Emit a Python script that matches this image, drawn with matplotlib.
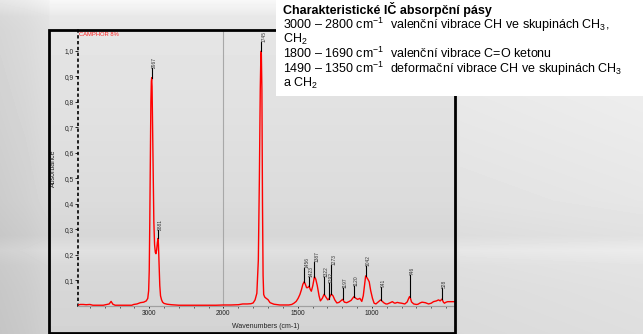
import matplotlib
matplotlib.use('Agg')
import matplotlib.pyplot as plt
import numpy as np
from matplotlib.patches import Rectangle

plt.rcParams['font.family'] = ['Liberation Sans', 'DejaVu Sans']
plt.rcParams['mathtext.fontset'] = 'custom'
plt.rcParams['mathtext.rm'] = 'Liberation Sans'
plt.rcParams['mathtext.it'] = 'Liberation Sans:italic'
plt.rcParams['mathtext.bf'] = 'Liberation Sans:bold'

# ---------------- data ----------------
wavenumbers = [3960, 3930, 3890, 3850, 3800, 3760, 3700, 3620, 3575, 3540, 3514, 3490, 3460,
               3400, 3300, 3235, 3210, 3165, 3120, 3075, 3040, 3020, 3008, 3000, 2993, 2985,
               2978, 2972, 2967, 2962, 2955, 2947, 2938, 2928, 2918, 2910, 2900, 2890, 2881,
               2876, 2868, 2858, 2848, 2835, 2820, 2800, 2760, 2700, 2600, 2500, 2400, 2300,
               2200, 2100, 2000, 1950, 1900, 1870, 1840, 1815, 1800, 1787, 1775, 1765,
               1758, 1752, 1748, 1745, 1741, 1737, 1733, 1729, 1722, 1712, 1700, 1686, 1660,
               1620, 1590, 1560, 1540, 1525, 1510, 1497, 1485, 1474, 1465, 1456, 1448, 1440,
               1432, 1423, 1415, 1408, 1398, 1387, 1378, 1368, 1356, 1347, 1334, 1322, 1310,
               1297, 1289, 1280, 1273, 1262, 1250, 1236, 1222, 1210, 1197, 1185, 1170, 1155,
               1140, 1130, 1120, 1108, 1096, 1081, 1068, 1058, 1050, 1042, 1030, 1018, 1008,
               996, 985, 973, 963, 952, 941, 930, 918, 905, 896, 880, 862, 850, 844, 829, 813,
               800, 778, 762, 752, 746, 740, 733, 718, 700, 689, 675, 662, 650, 640, 618, 600,
               585, 565, 551, 540, 528, 518, 511, 500, 489, 470, 451, 440]
absorbance = [0.004, 0.006, 0.006, 0.005, 0.006, 0.003, 0.003, 0.003, 0.006, 0.008, 0.018, 0.007, 0.003,
              0.003, 0.003, 0.003, 0.006, 0.008, 0.013, 0.015, 0.020, 0.030, 0.060, 0.140, 0.320, 0.600,
              0.800, 0.880, 0.895, 0.860, 0.700, 0.500, 0.330, 0.240, 0.210, 0.205, 0.220, 0.250, 0.265,
              0.240, 0.170, 0.080, 0.040, 0.025, 0.015, 0.010, 0.007, 0.005, 0.003, 0.003, 0.003, 0.003,
              0.003, 0.003, 0.004, 0.004, 0.005, 0.008, 0.008, 0.009, 0.012, 0.024, 0.050, 0.180,
              0.500, 0.850, 0.980, 1.000, 0.850, 0.400, 0.120, 0.045, 0.035, 0.030, 0.025, 0.013, 0.007,
              0.004, 0.004, 0.004, 0.006, 0.011, 0.018, 0.030, 0.045, 0.065, 0.085, 0.095, 0.085, 0.072,
              0.072, 0.078, 0.065, 0.058, 0.080, 0.115, 0.105, 0.080, 0.040, 0.020, 0.030, 0.046, 0.035,
              0.024, 0.028, 0.040, 0.047, 0.040, 0.024, 0.012, 0.014, 0.020, 0.026, 0.015, 0.013, 0.017,
              0.022, 0.030, 0.037, 0.030, 0.026, 0.030, 0.018, 0.040, 0.080, 0.118, 0.108, 0.095, 0.060,
              0.030, 0.011, 0.008, 0.013, 0.018, 0.024, 0.018, 0.012, 0.008, 0.008, 0.012, 0.017, 0.012,
              0.011, 0.014, 0.012, 0.011, 0.008, 0.016, 0.030, 0.037, 0.030, 0.016, 0.008, 0.006, 0.007,
              0.012, 0.015, 0.014, 0.013, 0.008, 0.011, 0.017, 0.020, 0.024, 0.020, 0.027, 0.015, 0.011,
              0.015, 0.017, 0.017, 0.017, 0.017]

peak_pos = [2967, 2881, 1745, 1456, 1423, 1387, 1322, 1289, 1273, 1197, 1120, 1042, 941, 746, 528]
peak_labels = ['2967', '2881', '1745', '1456', '1423', '1387', '1322', '1292', '1273', '1197',
               '1120', '1042', '941', '746', '528']
peak_label_base = [0.933, 0.298, 1.035, 0.150, 0.115, 0.174, 0.115, 0.089, 0.160, 0.070,
                   0.080, 0.158, 0.076, 0.120, 0.070]

yticks = [0.1, 0.2, 0.3, 0.4, 0.5, 0.6, 0.7, 0.8, 0.9, 1.0]
ytick_labels = ['0,1', '0,2', '0,3', '0,4', '0,5', '0,6', '0,7', '0,8', '0,9', '1,0']
xticks_major = [3000, 2000, 1500, 1000]
xtick_labels = ['3000', '2000', '1500', '1000']

box_title = 'Charakteristické IČ absorpční pásy'
box_lines = [r'3000 – 2800 cm$^{-1}$  valenční vibrace CH ve skupinách CH$_3$,',
             r'CH$_2$',
             r'1800 – 1690 cm$^{-1}$  valenční vibrace C=O ketonu',
             r'1490 – 1350 cm$^{-1}$  deformační vibrace CH ve skupinách CH$_3$',
             r'a CH$_2$']

# ---------------- figure ----------------
W, H = 643, 334
fig = plt.figure(figsize=(W / 100, H / 100), dpi=100)


def fx(px):
    return px / W


def fy(py):
    return 1 - py / H


# background gradient (styling only)
bg = fig.add_axes([0, 0, 1, 1])
bg.axis('off')
rows = np.interp(np.arange(H), [0, 6, 16, 30, 120, 200, 235, 250, 265, 290, 334],
                 [0.97, 0.95, 0.91, 0.90, 0.88, 0.86, 0.84, 0.88, 0.85, 0.84, 0.83])
cols = np.interp(np.arange(W), [0, 25, 48, 50, 455, 460, 643],
                 [0.93, 0.95, 0.98, 1.0, 1.0, 1.03, 1.05])
img = np.clip(np.outer(rows, cols), 0, 1)
bg.imshow(img, cmap='gray', vmin=0, vmax=1, aspect='auto', extent=[0, 1, 0, 1],
          interpolation='bilinear')

ax = fig.add_axes([fx(78), fy(306), fx(455) - fx(78), fy(30) - fy(306)])
ax.patch.set_alpha(0)


def fwd(w):
    w = np.asarray(w, float)
    return np.where(w >= 2000, w, 2 * w - 2000)


def inv(u):
    u = np.asarray(u, float)
    return np.where(u >= 2000, u, (u + 2000) / 2)


ax.set_xscale('function', functions=(fwd, inv))
ax.set_xlim(3960, 440)
ax.set_ylim(0, 1.082)

ax.axvline(2000, color='#a8a8a8', lw=0.8, zorder=1)
ax.plot(wavenumbers, absorbance, color='#ff0000', lw=1.0, zorder=3)

for w, lab, base in zip(peak_pos, peak_labels, peak_label_base):
    yv = float(np.interp(w, wavenumbers[::-1], absorbance[::-1]))
    ax.plot([w, w], [yv, base], color='black', lw=0.8, zorder=4)
    ax.text(w, base, lab, rotation=90, ha='left', va='bottom', fontsize=3.5,
            color='#333333', zorder=5, clip_on=True)

# axes styling
for s in ['top', 'right']:
    ax.spines[s].set_visible(False)
ax.spines['left'].set_linestyle((0, (1, 2.5)))
ax.spines['left'].set_linewidth(1.2)
ax.spines['bottom'].set_color('#a0a0a0')
ax.spines['bottom'].set_linewidth(0.9)

ax.set_yticks(yticks)
ax.set_yticklabels(ytick_labels)
ax.tick_params(axis='y', length=2.2, width=0.7, pad=0.8, labelsize=4.8, colors='#222222')

minor = [w for w in list(range(3800, 2000, -200)) + list(range(1900, 440, -100))
         if w not in xticks_major]
ax.set_xticks(xticks_major)
ax.set_xticklabels(xtick_labels)
ax.set_xticks(minor, minor=True)
ax.tick_params(axis='x', which='major', length=1.5, width=0.7, pad=1.5, labelsize=4.8,
               colors='#222222')
ax.tick_params(axis='x', which='minor', length=1.5, width=0.7, colors='#555555')

fig.text(fx(53), fy(168), 'Absorbance', rotation=90, ha='center', va='center',
         fontsize=5, color='#222222')
fig.text(fx(266), fy(327), 'Wavenumbers (cm-1)', ha='center', va='center',
         fontsize=5, color='#222222')
fig.text(fx(79), fy(35), 'CAMPHOR 8%', ha='left', va='center', fontsize=4.2,
         color='#ff2020')

# frame
fig.add_artist(Rectangle((fx(49), fy(333)), fx(455) - fx(49), fy(30) - fy(333),
                         transform=fig.transFigure, fill=False, lw=2, ec='black', zorder=6))

# white text box
fig.add_artist(Rectangle((fx(276), fy(96)), 1 - fx(276), fy(0) - fy(96),
                         transform=fig.transFigure, fc='white', ec='none', zorder=10))
fig.text(fx(283), fy(14), box_title, fontsize=9, fontweight='bold', ha='left',
         va='baseline', zorder=11, color='black')
for txt, base in zip(box_lines, [29.5, 43, 58.5, 72.7, 87]):
    fig.text(fx(283), fy(base), txt, fontsize=9, ha='left', va='baseline', zorder=11,
             color='black')

fig.savefig('out.png', dpi=100)
